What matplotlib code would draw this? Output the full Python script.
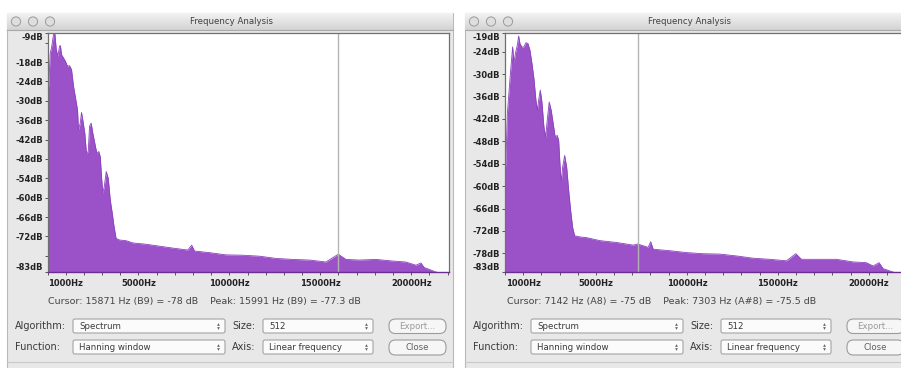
import matplotlib
matplotlib.use('Agg')
import matplotlib.pyplot as plt
import numpy as np
from matplotlib.patches import Rectangle, FancyBboxPatch, Circle

W, H = 901, 368

# spectrum (Hz, dB)
left_freq = [0, 70, 150, 220, 330, 400, 480, 570, 660, 710, 770, 880, 990, 1100,
             1210, 1320, 1430, 1540, 1650, 1700, 1800, 1870, 1940, 2050, 2140,
             2240, 2310, 2400, 2490, 2600, 2710, 2820, 2900, 2970, 3040, 3120,
             3230, 3340, 3450, 3560, 3660, 3770, 3960, 4320, 4690, 5420, 6150,
             6900, 7710, 7930, 8080, 8900, 9820, 10730, 11650, 12570, 13480,
             14400, 15310, 15990, 16410, 17140, 18060, 18970, 19700, 20260,
             20530, 20710, 20990, 21350, 22050]
left_db = [-28.6, -25, -15.2, -13.6, -9.5, -9, -14.1, -16.2, -13.1, -12.9, -15.7,
           -16.7, -17.8, -19.3, -19.1, -20.3, -25.5, -29.1, -32.8, -39, -36.9,
           -33.6, -35.9, -40, -46.2, -45.7, -37.9, -36.9, -40, -43.1, -46.2,
           -45.7, -47.3, -53.5, -58.6, -56.6, -51.9, -54, -60.7, -64.8, -69,
           -72.6, -73.1, -73.3, -74, -74.4, -75, -75.6, -76.2, -74.7, -76.5,
           -77, -77.7, -77.8, -78.1, -78.8, -79.1, -79.3, -79.9, -77.5, -79.1,
           -79.3, -79.1, -79.6, -79.9, -80.9, -80.2, -81.6, -82.2, -83, -84]

right_freq = [0, 50, 130, 240, 350, 420, 490, 570, 680, 750, 820, 930, 1040, 1150,
              1260, 1370, 1480, 1590, 1700, 1780, 1850, 1940, 2030, 2140, 2240,
              2320, 2430, 2540, 2650, 2760, 2870, 2950, 3020, 3090, 3170, 3280,
              3390, 3500, 3610, 3720, 3830, 4120, 4490, 5220, 6140, 7050, 7300,
              7870, 8010, 8150, 9070, 9980, 10900, 11810, 12730, 13640, 14560,
              15480, 15990, 16300, 17310, 18220, 19140, 19870, 20240, 20570,
              20790, 21150, 21520, 22050]
right_db = [-58, -53.1, -40.6, -33.4, -26.7, -22.7, -27.1, -24.5, -22.2, -19.8,
            -21.8, -22.8, -22.7, -21.6, -21.8, -23.6, -27.1, -31.2, -37, -39.7,
            -37, -34.3, -37.5, -44.2, -46.9, -42.4, -37.5, -39.7, -43.3, -46.9,
            -46.4, -47.8, -54, -59, -54.9, -51.8, -54.9, -61.2, -66.6, -71.1,
            -73.3, -73.6, -73.8, -74.6, -75.1, -75.8, -75.5, -76.4, -74.9, -76.9,
            -77.3, -77.8, -78.1, -78.2, -78.7, -79.3, -79.6, -80, -78.1, -79.6,
            -79.6, -79.6, -80.3, -80.5, -81.4, -80.5, -82.1, -82.7, -83.3, -84]

left_ticks = [-9, -12, -18, -24, -30, -36, -42, -48, -54, -60, -66, -72, -78, -83]
left_ticklabels = ['-9dB', '', '-18dB', '-24dB', '-30dB', '-36dB', '-42dB', '-48dB',
                   '-54dB', '-60dB', '-66dB', '-72dB', '', '-83dB']
right_ticks = [-19, -24, -30, -36, -42, -48, -54, -60, -66, -72, -78, -83]
right_ticklabels = ['-19dB', '-24dB', '-30dB', '-36dB', '-42dB', '-48dB', '-54dB',
                    '-60dB', '-66dB', '-72dB', '-78dB', '-83dB']
db_limits = [(-83, -9), (-83, -19)]

freq_ticks = [1000, 5000, 10000, 15000, 20000]
freq_ticklabels = ['1000Hz', '5000Hz', '10000Hz', '15000Hz', '20000Hz']
peak_hz = [15991, 7303]
cursor_text = ['Cursor: 15871 Hz (B9) = -78 dB    Peak: 15991 Hz (B9) = -77.3 dB',
               'Cursor: 7142 Hz (A8) = -75 dB    Peak: 7303 Hz (A#8) = -75.5 dB']

algorithm = 'Spectrum'
size = '512'
window_fn = 'Hanning window'
axis_mode = 'Linear frequency'

PURPLE = '#9b52c9'
WIN_BG = '#e8e8e8'
TXT = '#3a3a3a'

plt.rcParams['font.family'] = 'DejaVu Sans'
fig = plt.figure(figsize=(W / 100, H / 100), dpi=100)
fig.patch.set_facecolor('white')

bg = fig.add_axes([0, 0, 1, 1])
bg.set_axis_off()


def combo(x0, x1, y0, y1, text):
    bg.add_patch(FancyBboxPatch((x0, y0), x1 - x0, y1 - y0,
                                boxstyle='round,pad=0,rounding_size=2',
                                fc='#fbfbfb', ec='#a4a4a4', lw=0.8))
    bg.text(x0 + 6, (y0 + y1) / 2 + 0.5, text, fontsize=6.2, color=TXT,
            ha='left', va='center')
    cy = (y0 + y1) / 2
    bg.plot([x1 - 7], [cy - 2], marker='^', ms=2, color='#666', mew=0)
    bg.plot([x1 - 7], [cy + 2], marker='v', ms=2, color='#666', mew=0)


def button(x0, x1, y0, y1, text, color):
    bg.add_patch(FancyBboxPatch((x0, y0), x1 - x0, y1 - y0,
                                boxstyle='round,pad=0,rounding_size=6.5',
                                fc='#f6f6f6', ec='#9c9c9c', lw=0.8))
    bg.text((x0 + x1) / 2, (y0 + y1) / 2 + 0.5, text, fontsize=6.2, color=color,
            ha='center', va='center')


def window(dx, width):
    x0 = 7 + dx
    bg.add_patch(Rectangle((x0, 13), width, 360, fc=WIN_BG, ec='#b9b9b9', lw=0.8))
    # title bar
    grad = np.linspace(0.95, 0.83, 20)[:, None, None] * np.ones((1, 1, 3))
    bg.imshow(grad, extent=(x0, x0 + width, 30, 13), aspect='auto',
              origin='upper', zorder=1)
    bg.plot([x0, x0 + width], [30, 30], color='#a9a9a9', lw=0.8, zorder=2)
    for cx in (16, 33, 50):
        bg.add_patch(Circle((cx + dx, 21.5), 4.6, fc='#dedede', ec='#9a9a9a',
                            lw=0.7, zorder=3))
    bg.text(232 + dx, 22, 'Frequency Analysis', fontsize=6.2, color='#404040',
            ha='center', va='center', zorder=3)
    # controls
    bg.text(15 + dx, 326, 'Algorithm:', fontsize=7, color=TXT, va='center')
    bg.text(15 + dx, 347.5, 'Function:', fontsize=7, color=TXT, va='center')
    bg.text(232 + dx, 326, 'Size:', fontsize=7, color=TXT, va='center')
    bg.text(232 + dx, 347.5, 'Axis:', fontsize=7, color=TXT, va='center')
    combo(73 + dx, 225 + dx, 319, 333, algorithm)
    combo(263 + dx, 373 + dx, 319, 333, size)
    combo(73 + dx, 225 + dx, 340, 354, window_fn)
    combo(263 + dx, 373 + dx, 340, 354, axis_mode)
    button(389 + dx, 446 + dx, 319, 333.5, 'Export...', '#9a9a9a')
    button(389 + dx, 446 + dx, 340, 355, 'Close', '#606060')
    bg.plot([x0, x0 + width], [361.5, 361.5], color='#c9c9c9', lw=0.8)


window(0, 446)
window(458, 460)
bg.set_xlim(0, W)
bg.set_ylim(H, 0)

panels = [
    (47.5, left_freq, left_db, left_ticks, left_ticklabels),
    (505.0, right_freq, right_db, right_ticks, right_ticklabels),
]
for i, (px, fr, db, yt, ytl) in enumerate(panels):
    ax = fig.add_axes([px / W, 1 - 272 / H, 401 / W, 239 / H])
    ax.set_facecolor('white')
    ax.fill_between(fr, db, -90, color=PURPLE, lw=0)
    ax.plot(fr, db, color='#8c42bd', lw=0.6)
    ax.axvline(peak_hz[i], color='#b4b4b4', lw=1)
    ax.set_xlim(0, 22050)
    ax.set_ylim(*db_limits[i])

    ax.set_xticks(freq_ticks)
    ax.set_xticklabels(freq_ticklabels, fontsize=6, fontweight='bold')
    ax.set_xticks(range(0, 22001, 1000), minor=True)
    ax.set_yticks(yt)
    ax.set_yticklabels(ytl, fontsize=6, fontweight='bold')
    labels = ax.get_yticklabels()
    labels[0].set_verticalalignment('top')
    labels[-1].set_verticalalignment('bottom')
    ax.tick_params(axis='x', which='both', direction='out', length=2.2,
                   width=0.7, color='#555', pad=2.5, labelcolor='#222')
    ax.tick_params(axis='y', direction='out', length=2.5, width=0.7,
                   color='#555', pad=0.8, labelcolor='#222')
    for side in ('top', 'left', 'right'):
        ax.spines[side].set_color('#707070')
        ax.spines[side].set_linewidth(0.9)
    ax.spines['bottom'].set_color('#6a2d91')
    ax.spines['bottom'].set_linewidth(1)

    bg.text(204 + 458 * i, 301.5, cursor_text[i], fontsize=6.8, color='#444',
            ha='center', va='center')

fig.savefig('out.png', dpi=100, facecolor='white')
